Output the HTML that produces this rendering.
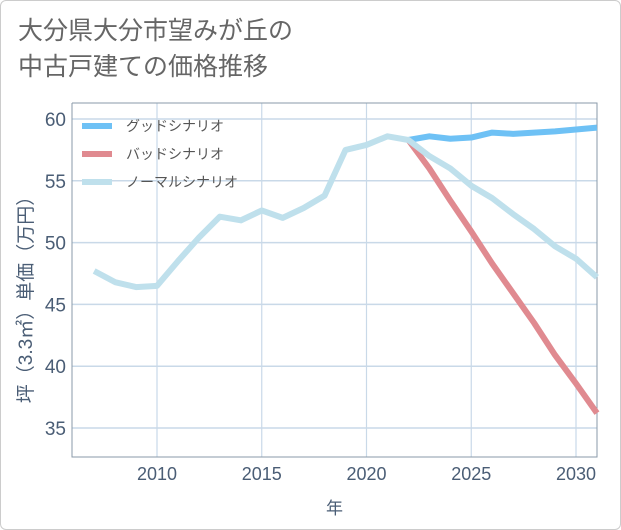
<!DOCTYPE html>
<html><head><meta charset="utf-8"><style>
body{margin:0;background:#fff;}
#wrap{position:relative;width:619px;height:528px;border:1px solid #ccc;border-radius:6px;background:#fff;overflow:hidden;font-family:"Liberation Sans","Noto Sans CJK JP",sans-serif;}
#title{position:absolute;left:17px;top:12px;font-size:25px;line-height:36px;color:#666;}
</style></head><body>
<div id="wrap">
<div id="title">大分県大分市望みが丘の<br>中古戸建ての価格推移</div>
<svg id="chart" width="621" height="530" style="position:absolute;left:-1px;top:-1px"></svg>
</div>
<script>
const years=[2007,2008,2009,2010,2011,2012,2013,2014,2015,2016,2017,2018,2019,2020,2021,2022,2023,2024,2025,2026,2027,2028,2029,2030,2031];
const normalVals=[47.7,46.8,46.4,46.5,48.5,50.4,52.1,51.8,52.6,52.0,52.8,53.8,57.5,57.9,58.6,58.3,57.0,56.0,54.6,53.6,52.3,51.1,49.7,48.7,47.2];
const futureYears=[2022,2023,2024,2025,2026,2027,2028,2029,2030,2031];
const goodVals=[58.3,58.6,58.4,58.5,58.9,58.8,58.9,59.0,59.15,59.3];
const badVals=[58.3,56.0,53.4,50.9,48.3,45.9,43.5,40.9,38.6,36.2];
const xTicks=[2010,2015,2020,2025,2030];
const yTicks=[35,40,45,50,55,60];
const legendLabels=["グッドシナリオ","バッドシナリオ","ノーマルシナリオ"];
const L=72,R=597,T=103,B=457;
const x=v=>157+(v-2010)*(576-157)/20;
const y=v=>119+(60-v)*(428-119)/25;
const svg=document.getElementById('chart');
const NS='http://www.w3.org/2000/svg';
function mk(t,a){const e=document.createElementNS(NS,t);for(const k in a)e.setAttribute(k,a[k]);svg.appendChild(e);return e;}
for(const t of yTicks){const g=mk('line',{x1:L,x2:R,y1:y(t),y2:y(t),stroke:'#c9d9e8','stroke-width':1.5});


const tx=mk('text',{x:L-6,y:y(t)+7,'text-anchor':'end','font-size':19,fill:'#4a5d75'});tx.textContent=t;

}
for(const t of xTicks){const g=mk('line',{x1:x(t),x2:x(t),y1:T,y2:B,stroke:'#c9d9e8','stroke-width':1.2});


const tx=mk('text',{x:x(t),y:B+23,'text-anchor':'middle','font-size':18,fill:'#4a5d75'});tx.textContent=t;

}
const ax=mk('path',{d:`M${L},${T}V${B}H${R}V${T}H${L}`,fill:'none',stroke:'#8a9aa8','stroke-width':1});


function line(xs,vs,c,name){const p=mk('polyline',{points:xs.map((v,i)=>x(v)+','+y(vs[i])).join(' '),fill:'none',stroke:c,'stroke-width':6,'stroke-linejoin':'round'});

}
line(futureYears,goodVals,'#6ec1f5','good-scenario-line');
line(futureYears,badVals,'#e08a90','bad-scenario-line');
line(years,normalVals,'#bfe0ec','normal-scenario-line');
const cols=['#6ec1f5','#e08a90','#bfe0ec'];
legendLabels.forEach((lb,i)=>{const yy=126+i*28;
const l=mk('line',{x1:82,x2:112,y1:yy,y2:yy,stroke:cols[i],'stroke-width':6});


const t=mk('text',{x:126,y:yy+5,'font-size':14,fill:'#555'});t.textContent=lb;

});
const yt=mk('text',{transform:`translate(32,295) rotate(-90)`,'text-anchor':'middle','font-size':19,fill:'#4a5d75'});yt.textContent='坪（3.3㎡）単価（万円）';


const xt=mk('text',{x:(L+R)/2,y:514,'text-anchor':'middle','font-size':17,fill:'#4a5d75'});xt.textContent='年';


</script>
</body></html>
